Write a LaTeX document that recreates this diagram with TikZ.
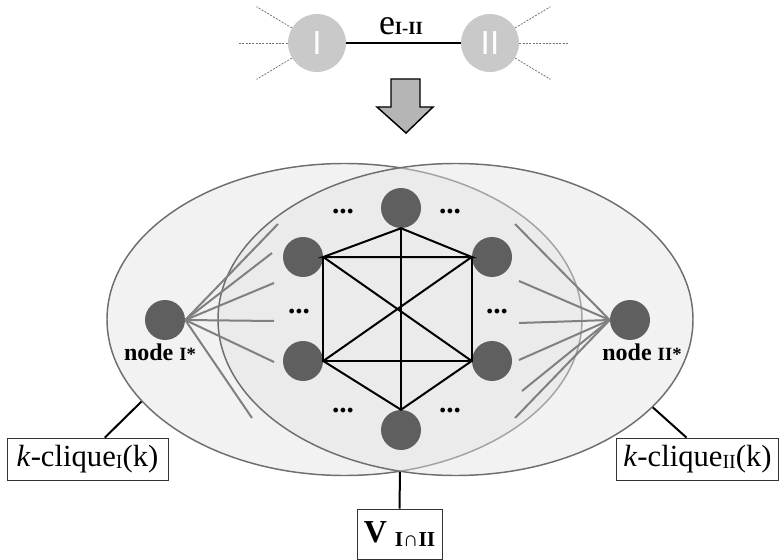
\documentclass[tikz,border=0pt]{standalone}
\usepackage{fontspec}
\setmainfont{Liberation Serif}
\setsansfont{Liberation Sans}
\usetikzlibrary{shapes.geometric}

\definecolor{vgray}{HTML}{5F5F5F}
\definecolor{cgray}{HTML}{C9C9C9}
\definecolor{egray}{HTML}{6E6E6E}
\definecolor{fgray}{HTML}{808080}
\newcommand{\fs}[1]{\fontsize{#1}{#1}\selectfont}

\begin{document}
\begin{tikzpicture}[x=0.75pt,y=-0.75pt,
	vertex/.style={circle,fill=vgray,minimum size=30pt,inner sep=0},
	cluster/.style={circle,fill=cgray,minimum size=43.5pt,inner sep=0,text=white,font=\sffamily\fs{25}},
	region/.style={ellipse,draw=egray,line width=1.1pt,minimum width=356.25pt,minimum height=234pt,inner sep=0},
	edge/.style={line width=1.5pt},
	spoke/.style={line width=1.5pt,draw=fgray},
	rim/.style={line width=0.6pt,dash pattern=on 1.5pt off 1pt,draw=black!55},
	tag/.style={draw=black!80,line width=0.6pt,inner sep=0,minimum height=31.5pt,font=\fs{23}},
	dots/.style={font=\bfseries\fs{22},inner sep=0}]
	\useasboundingbox (0,0) rectangle (779,560);

	% the contracted edge on top
	\node[cluster] (cI) at (317,43) {I};
	\node[cluster] (cII) at (490,43) {II};
	\draw[line width=1.5pt] (cI) -- (cII);
	\node[anchor=base,inner sep=0] (eI) at (401,35) {\fs{27}e{\fs{14}\bfseries I-II}};
	\foreach \a/\l in {149/31pt,180/37.5pt,211/31pt}
		\draw[rim] (cI.\a) -- ++(\a:\l);
	\foreach \a/\l in {31/31pt,0/37.5pt,-31/31pt}
		\draw[rim] (cII.\a) -- ++(\a:\l);

	% block arrow
	\draw[fill=cgray!90!black,line width=1.1pt,line join=miter]
		(391,79) -- (420,79) -- (420,107) -- (433,107) -- (406,133)
		-- (377,107) -- (391,107) -- cycle;

	% the two k-cliques
	\node[region,fill=black!5] (lE) at (344.5,319.5) {};
	\node[region,fill=black!11,fill opacity=0.46] (rE) at (455.5,319.5) {};

	% fans to the two outer nodes
	\node[vertex] (nI) at (165,320) {};
	\node[vertex] (nII) at (630,320) {};
	\foreach \x/\y [count=\i] in {278/224,272/253,274/283,274/321,274/362,252/418}
		\coordinate (fl\i) at (\x,\y);
	\foreach \x/\y [count=\i] in {515/224,519/281,519/323,519/360,522/391,515/418}
		\coordinate (fr\i) at (\x,\y);
	\foreach \i in {1,...,6} {
		\draw[spoke] (nI.east) -- (fl\i);
		\draw[spoke] (nII.west) -- (fr\i);
	}
	\node[anchor=base,inner sep=0] (tI) at (160,360) {\bfseries\fs{18}node {\fs{14}I*}};
	\node[anchor=base,inner sep=0] (tII) at (642,360) {\bfseries\fs{18}node {\fs{14}II*}};

	% shared vertices
	\node[vertex] (vt) at (401,208) {};
	\node[vertex] (vul) at (303,257) {};
	\node[vertex] (vur) at (492,257) {};
	\node[vertex] (vll) at (303,361) {};
	\node[vertex] (vlr) at (492,361) {};
	\node[vertex] (vb) at (401,430) {};
	\draw[edge] (vt.south) -- (vul.east) -- (vur.west) -- cycle;
	\draw[edge] (vt.south) -- (vb.north);
	\draw[edge] (vul.east) -- (vll.east) -- (vlr.west) -- (vur.west);
	\draw[edge] (vul.east) -- (vlr.west);
	\draw[edge] (vur.west) -- (vll.east);
	\draw[edge] (vll.east) -- (vb.north) -- (vlr.west);
	\node[dots] (d1) at (343,212) {...};
	\node[dots] (d2) at (450,212) {...};
	\node[dots] (d3) at (299,312) {...};
	\node[dots] (d4) at (497,312) {...};
	\node[dots] (d5) at (343,411) {...};
	\node[dots] (d6) at (450,411) {...};

	% labels below
	\node[tag,minimum width=120.75pt] (kI) at (87.5,459) {\textit{k}-clique\raisebox{-1.5pt}{\fs{15}I}(k)};
	\node[tag,minimum width=121.5pt] (kII) at (697.5,459) {\textit{k}-clique\raisebox{-1.5pt}{\fs{15}II}(k)};
	\node[tag,minimum width=63.75pt,minimum height=37.5pt] (vS) at (399.5,534)
		{\bfseries\fs{24}V \raisebox{-3.5pt}{\fs{16}I∩II}};
	\coordinate (meet) at (400,472);
	\draw[edge] ([xshift=13pt]kI.north) -- (lE.202.5);
	\draw[edge] ([xshift=-8.25pt]kII.north) -- (rE.336);
	\draw[edge] (vS.north) -- (meet);
\end{tikzpicture}
\end{document}
